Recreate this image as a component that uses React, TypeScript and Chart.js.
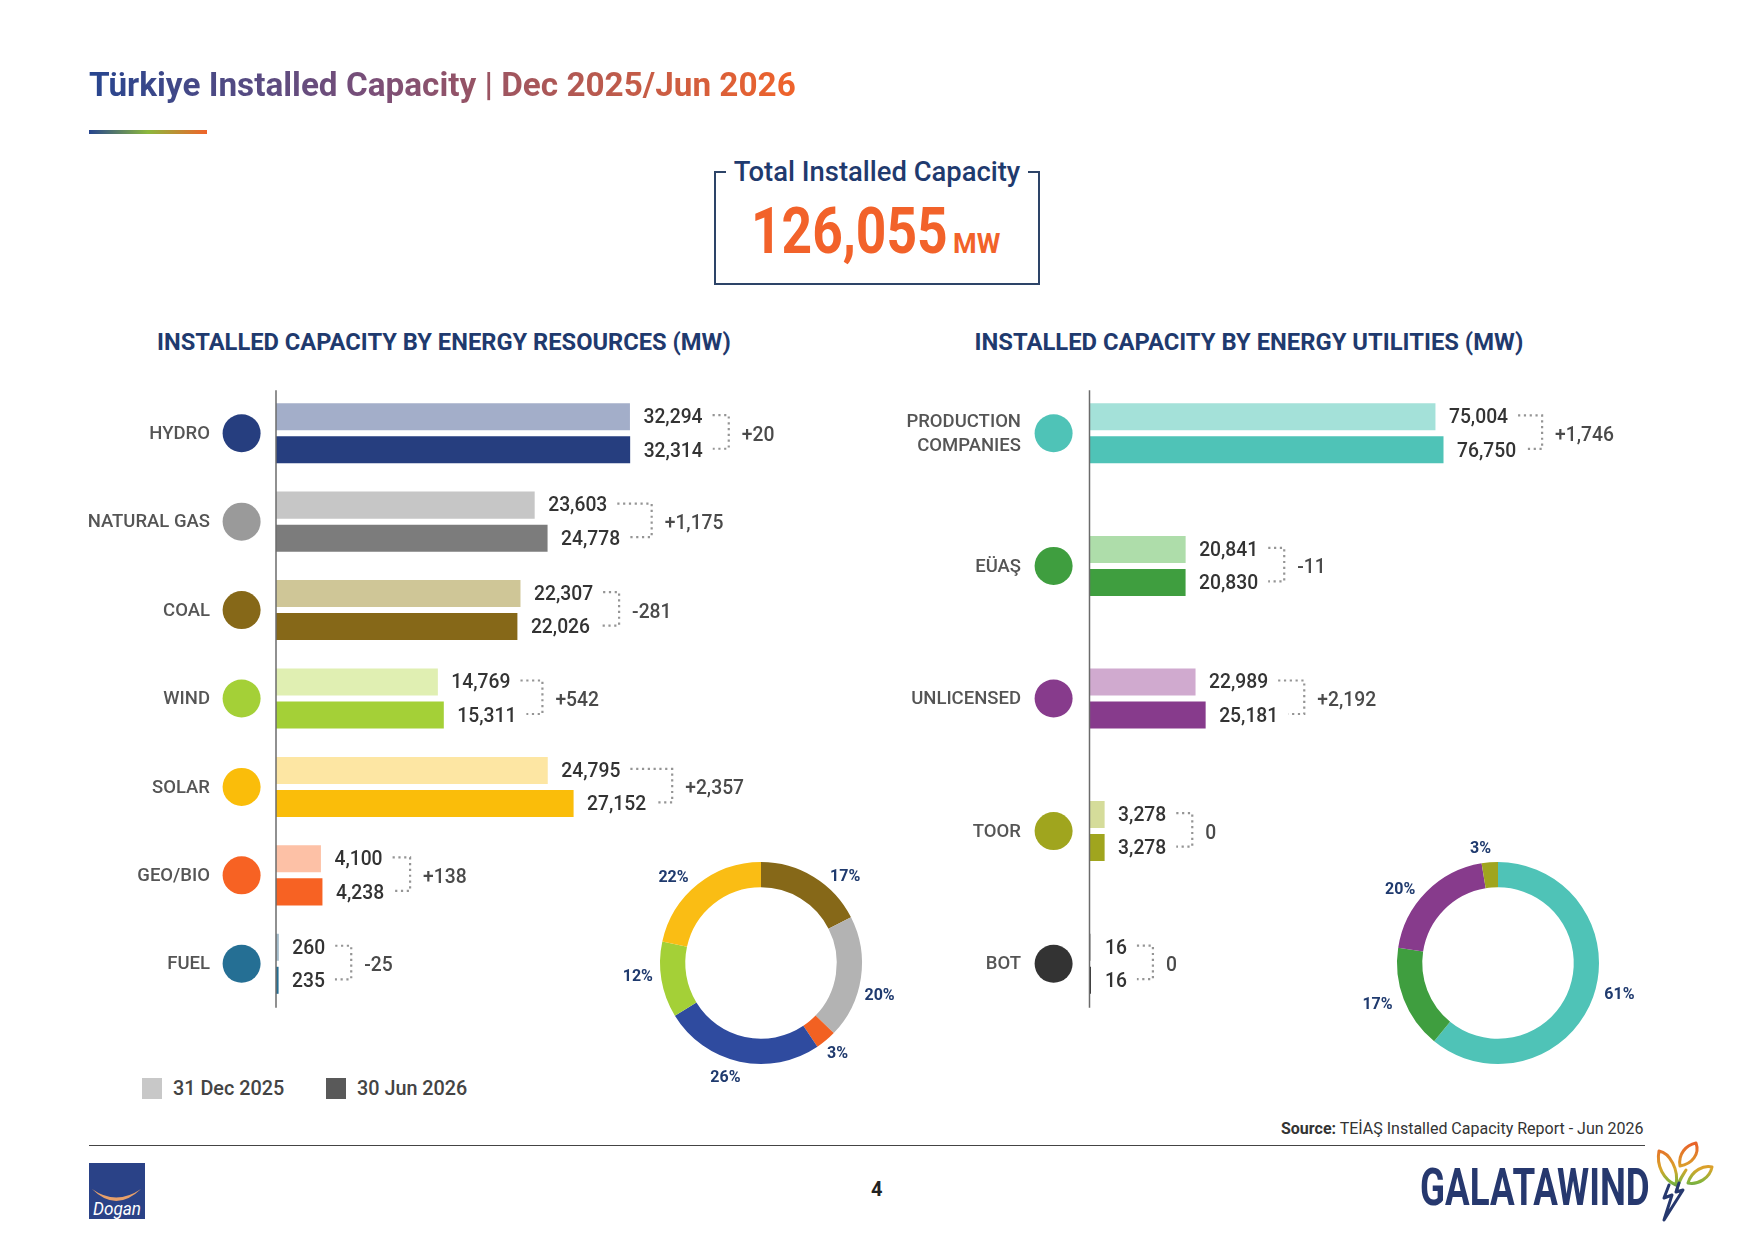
import React, { useEffect, useRef } from "react";
import { Chart, registerables } from "chart.js";

Chart.register(...registerables);

// ---------- data ----------
const resourceCategories = ["HYDRO", "NATURAL GAS", "COAL", "WIND", "SOLAR", "GEO/BIO", "FUEL"];
const resourceDec2025 = [32294, 23603, 22307, 14769, 24795, 4100, 260];
const resourceJun2026 = [32314, 24778, 22026, 15311, 27152, 4238, 235];
const resourceLight = ["#a3aec9", "#c6c6c6", "#cfc697", "#e0efb2", "#fde6a3", "#fdc1a6", "#a3bccb"];
const resourceDark = ["#263e7f", "#7c7c7c", "#866818", "#a4d037", "#fabd0a", "#f76223", "#256f94"];
const resourceDot = ["#263e7f", "#9a9a9a", "#866818", "#a4d037", "#fabd0a", "#f76223", "#256f94"];

const utilityCategories = [["PRODUCTION", "COMPANIES"], "EÜAŞ", "UNLICENSED", "TOOR", "BOT"];
const utilityDec2025 = [75004, 20841, 22989, 3278, 16];
const utilityJun2026 = [76750, 20830, 25181, 3278, 16];
const utilityLight = ["#a4e1d9", "#aeddaa", "#d0aacf", "#d5dc9a", "#bdbdbd"];
const utilityDark = ["#4fc3b7", "#3f9e3f", "#873b8c", "#a0a51e", "#333333"];

const totalCapacity = 126055;

const resourceShareLabels = ["COAL", "NATURAL GAS", "GEO/BIO", "HYDRO", "WIND", "SOLAR"];
const resourceShareValues = [22026, 24778, 4238, 32314, 15311, 27152];
const resourceShareColors = ["#866818", "#b3b3b3", "#f26122", "#2f4b9f", "#a4d037", "#fabd14"];

const utilityShareLabels = ["PRODUCTION COMPANIES", "EÜAŞ", "UNLICENSED", "TOOR"];
const utilityShareValues = [76750, 20830, 25181, 3278];
const utilityShareColors = ["#4fc3b7", "#3f9e3f", "#873b8c", "#a0a51e"];

// ---------- styles ----------
const NAVY = "#1f3a6e";
const FONT = "Roboto, sans-serif";

const fmt = (v: number) => v.toLocaleString("en-US");
const fmtDelta = (d: number) => (d > 0 ? "+" + fmt(d) : fmt(d));

const barDecor = {
  id: "barDecor",
  afterDatasetsDraw(chart: any, _a: any, o: any) {
    const { ctx, scales } = chart;
    const y = scales.y;
    const a = chart.getDatasetMeta(0);
    const b = chart.getDatasetMeta(1);
    const d0 = chart.data.datasets[0].data;
    const d1 = chart.data.datasets[1].data;
    const left = chart.chartArea.left;
    ctx.save();
    // axis line
    ctx.strokeStyle = "#6b6b6b";
    ctx.lineWidth = 1.5;
    ctx.beginPath();
    ctx.moveTo(left, y.getPixelForValue(0) - o.axisOver);
    ctx.lineTo(left, y.getPixelForValue(d0.length - 1) + o.axisOver + 1);
    ctx.stroke();
    ctx.textBaseline = "middle";
    d0.forEach((v0: number, i: number) => {
      const cy = y.getPixelForValue(i);
      // category dot
      ctx.fillStyle = o.dots[i];
      ctx.beginPath();
      ctx.arc(o.dotX, cy, 19, 0, Math.PI * 2);
      ctx.fill();
      const v1 = d1[i];
      const t0 = fmt(v0);
      const t1 = fmt(v1);
      const x0 = Math.max(a.data[i].x, left + 2) + 13.5;
      const x1 = Math.max(b.data[i].x, left + 2) + 13.5;
      const y0 = a.data[i].y + 1.5;
      const y1 = b.data[i].y + 2;
      ctx.fillStyle = "#333333";
      ctx.textAlign = "left";
      ctx.font = `500 ${o.valueSize}px ${FONT}`;
      ctx.fillText(t0, x0, y0);
      ctx.fillText(t1, x1, y1);
      const e0 = x0 + ctx.measureText(t0).width;
      const e1 = x1 + ctx.measureText(t1).width;
      const bx = Math.max(e0, e1) + 26 + (o.bracketExtra[i] || 0);
      ctx.strokeStyle = "#959595";
      ctx.lineWidth = 2.2;
      ctx.setLineDash([2.2, 3.6]);
      ctx.beginPath();
      ctx.moveTo(e0 + 10, y0 - 3);
      ctx.lineTo(bx, y0 - 3);
      ctx.lineTo(bx, y1 - 3);
      ctx.lineTo(e1 + 10, y1 - 3);
      ctx.stroke();
      ctx.setLineDash([]);
      ctx.fillStyle = "#4a4a4a";
      ctx.fillText(fmtDelta(v1 - v0), bx + 13, (y0 + y1) / 2 + 1);
    });
    ctx.restore();
  },
};

const donutLabels = {
  id: "donutLabels",
  afterDatasetsDraw(chart: any, _a: any, o: any) {
    const { ctx } = chart;
    const meta = chart.getDatasetMeta(0);
    ctx.save();
    ctx.font = `700 16px ${FONT}`;
    ctx.fillStyle = NAVY;
    ctx.textAlign = "center";
    ctx.textBaseline = "middle";
    meta.data.forEach((arc: any, i: number) => {
      const mid = (arc.startAngle + arc.endAngle) / 2 + (o.nudge[i] * Math.PI) / 180;
      const r = arc.outerRadius + 21 + o.push[i];
      const pct = Math.round((chart.data.datasets[0].data[i] / totalCapacity) * 100);
      ctx.fillText(pct + "%", arc.x + Math.cos(mid) * r, arc.y + Math.sin(mid) * r);
    });
    ctx.restore();
  },
};

function makeBar(
  canvas: HTMLCanvasElement,
  labels: any[],
  dec: number[],
  jun: number[],
  light: string[],
  dark: string[],
  dots: string[],
  cfg: { axisWidth: number; xMax: number; catPct: number; tickPad: number; dotX: number; axisOver: number; bracketExtra: Record<number, number> }
) {
  return new Chart(canvas, {
    type: "bar",
    data: {
      labels,
      datasets: [
        { label: "31 Dec 2025", data: dec, backgroundColor: light, borderWidth: 0, minBarLength: 1.5 },
        { label: "30 Jun 2026", data: jun, backgroundColor: dark, borderWidth: 0, minBarLength: 1.5 },
      ],
    },
    options: {
      indexAxis: "y",
      responsive: false,
      maintainAspectRatio: false,
      animation: false,
      layout: { padding: 0 },
      datasets: { bar: { categoryPercentage: cfg.catPct, barPercentage: 0.818 } },
      scales: {
        x: { display: false, min: 0, max: cfg.xMax },
        y: {
          border: { display: false },
          grid: { display: false, drawTicks: false },
          ticks: {
            padding: cfg.tickPad,
            labelOffset: 1,
            color: "#555555",
            font: { family: FONT, size: 18.5, weight: "500", lineHeight: 1.26 },
          },
          afterFit(s: any) {
            s.width = cfg.axisWidth;
            s.paddingTop = 0;
            s.paddingBottom = 0;
          },
        },
      },
      plugins: {
        legend: { display: false },
        tooltip: { enabled: false },
        barDecor: { valueSize: 19.3, dots, dotX: cfg.dotX, axisOver: cfg.axisOver, bracketExtra: cfg.bracketExtra },
      },
    } as any,
    plugins: [barDecor],
  });
}

function makeDonut(canvas: HTMLCanvasElement, labels: string[], values: number[], colors: string[], nudge: number[], push: number[]) {
  return new Chart(canvas, {
    type: "doughnut",
    data: { labels, datasets: [{ data: values, backgroundColor: colors, borderWidth: 0 }] },
    options: {
      responsive: false,
      maintainAspectRatio: false,
      animation: false,
      cutout: "75%",
      layout: { padding: 49 },
      plugins: { legend: { display: false }, tooltip: { enabled: false }, donutLabels: { nudge, push } },
    } as any,
    plugins: [donutLabels],
  });
}

const abs = (s: React.CSSProperties): React.CSSProperties => ({ position: "absolute", whiteSpace: "nowrap", ...s });
const canvasBox = (left: number, top: number, width: number, height: number): React.CSSProperties => ({
  position: "absolute",
  left,
  top,
  width,
  height,
  display: "block",
});

export default function App() {
  const barL = useRef<HTMLCanvasElement>(null);
  const barR = useRef<HTMLCanvasElement>(null);
  const donL = useRef<HTMLCanvasElement>(null);
  const donR = useRef<HTMLCanvasElement>(null);

  useEffect(() => {
    const charts = [
      makeBar(barL.current!, resourceCategories, resourceDec2025, resourceJun2026, resourceLight, resourceDark, resourceDot, {
        axisWidth: 276,
        xMax: 50000,
        catPct: 0.747,
        tickPad: 66,
        dotX: 241.6,
        axisOver: 43,
        bracketExtra: { 1: 5.5 },
      }),
      makeBar(barR.current!, utilityCategories, utilityDec2025, utilityJun2026, utilityLight, utilityDark, utilityDark, {
        axisWidth: 229.5,
        xMax: 120000,
        catPct: 0.498,
        tickPad: 68.5,
        dotX: 193.6,
        axisOver: 43,
        bracketExtra: {},
      }),
      makeDonut(donL.current!, resourceShareLabels, resourceShareValues, resourceShareColors, [13, 7, 0, 5, 3, -7], [-2, 1, -3, -2, 2, 0]),
      makeDonut(donR.current!, utilityShareLabels, utilityShareValues, utilityShareColors, [-5, 2, -8, -4], [3.5, 5.5, 0, -6.5]),
    ];
    return () => charts.forEach((c) => c.destroy());
  }, []);

  return (
    <div style={{ position: "absolute", left: 0, top: 0, width: 1754, height: 1241, overflow: "hidden", background: "#fff", fontFamily: FONT }}>
      {/* title */}
      <div
        style={abs({
          left: 89,
          top: 65,
          fontSize: 33.3,
          fontWeight: 700,
          lineHeight: "40px",
          background: "linear-gradient(90deg,#27458f 0%,#7a4f78 40%,#f0632a 100%)",
          WebkitBackgroundClip: "text",
          backgroundClip: "text",
          color: "transparent",
        })}
      >
        Türkiye Installed Capacity | Dec 2025/Jun 2026
      </div>
      <div style={abs({ left: 89, top: 130, width: 118, height: 4, background: "linear-gradient(90deg,#27458f 0%,#8cb83c 50%,#f0632a 100%)" })} />

      {/* total box */}
      <div style={abs({ left: 714, top: 171, width: 322, height: 110, border: "2px solid #2d4468" })} />
      <div style={abs({ left: 726, top: 152.5, width: 302, textAlign: "center", background: "#fff", color: NAVY, fontSize: 27.4, fontWeight: 500, lineHeight: "38px" })}>
        Total Installed Capacity
      </div>
      <div style={abs({ left: 750.5, top: 194, color: "#f2622a", fontSize: 65, fontWeight: 700, lineHeight: "74px", transform: "scaleX(0.82)", transformOrigin: "left center" })}>
        {fmt(totalCapacity)}
      </div>
      <div style={abs({ left: 953, top: 228, color: "#f2622a", fontSize: 27, fontWeight: 700, lineHeight: "32px" })}>MW</div>

      {/* section headers */}
      <div style={abs({ left: 157, top: 326, color: NAVY, fontSize: 23.7, fontWeight: 700, lineHeight: "32px" })}>
        INSTALLED CAPACITY BY ENERGY RESOURCES (MW)
      </div>
      <div style={abs({ left: 974.5, top: 326, color: NAVY, fontSize: 23.8, fontWeight: 700, lineHeight: "32px" })}>
        INSTALLED CAPACITY BY ENERGY UTILITIES (MW)
      </div>

      {/* charts */}
      <canvas ref={barL} width={824} height={619} style={canvasBox(0, 389, 824, 619)} />
      <canvas ref={barR} width={783} height={663} style={canvasBox(860, 367, 783, 663)} />
      <canvas ref={donL} width={300} height={300} style={canvasBox(610.5, 812.5, 300, 300)} />
      <canvas ref={donR} width={300} height={300} style={canvasBox(1347.7, 812.5, 300, 300)} />

      {/* legend */}
      <div style={abs({ left: 142, top: 1078, width: 20, height: 21, background: "#c8c8c8" })} />
      <div style={abs({ left: 173, top: 1076, color: "#444", fontSize: 19.8, fontWeight: 500, lineHeight: "26px" })}>31 Dec 2025</div>
      <div style={abs({ left: 326, top: 1078, width: 20, height: 21, background: "#595959" })} />
      <div style={abs({ left: 357, top: 1076, color: "#444", fontSize: 19.8, fontWeight: 500, lineHeight: "26px" })}>30 Jun 2026</div>

      {/* footer */}
      <div style={abs({ right: 110.5, top: 1118.5, color: "#333", fontSize: 16, lineHeight: "20px" })}>
        <span style={{ fontWeight: 700 }}>Source:</span> TEİAŞ Installed Capacity Report - Jun 2026
      </div>
      <div style={abs({ left: 89, top: 1145, width: 1556, height: 1, background: "#444" })} />
      <svg style={abs({ left: 89, top: 1163 })} width="56" height="56" viewBox="0 0 56 56">
        <rect width="56" height="56" fill="#2a4287" />
        <path d="M3 26 Q27 50 52 26 Q27 43 3 26 Z" fill="#e8a06a" />
        <text x="28" y="52" textAnchor="middle" fontFamily={FONT} fontStyle="italic" fontSize="18" textLength="48" lengthAdjust="spacingAndGlyphs" fill="#fff">
          Dogan
        </text>
      </svg>
      <div style={abs({ left: 871, top: 1176.5, color: "#222", fontSize: 20, fontWeight: 700, lineHeight: "24px" })}>4</div>
      <div style={abs({ left: 1420, top: 1158, color: "#26386e", fontSize: 51, fontWeight: 700, lineHeight: "60px", transform: "scaleX(0.72)", transformOrigin: "left center" })}>
        GALATAWIND
      </div>
      <svg style={abs({ left: 1650, top: 1140 })} width="70" height="85" viewBox="0 0 70 85" fill="none" strokeWidth="3" strokeLinejoin="round" strokeLinecap="round">
        <defs>
          <linearGradient id="leafGrad" gradientUnits="userSpaceOnUse" x1="0" y1="4" x2="0" y2="75">
            <stop offset="0" stopColor="#e8632a" />
            <stop offset="0.35" stopColor="#d9a52a" />
            <stop offset="0.55" stopColor="#7fb53c" />
            <stop offset="0.72" stopColor="#26386e" />
            <stop offset="1" stopColor="#26386e" />
          </linearGradient>
        </defs>
        <path d="M26 45 C14 40 6 26 9 11 C20 13 29 30 26 45 Z" stroke="url(#leafGrad)" />
        <path d="M30 26 C28 14 36 5 46 3 C50 14 42 24 30 26 Z" stroke="url(#leafGrad)" />
        <path d="M38 43 C42 30 54 25 62 27 C60 38 48 45 38 43 Z" stroke="url(#leafGrad)" />
        <path d="M36 30 C31 38 28 42 27 50" stroke="url(#leafGrad)" />
        <path d="M19 45 L14 58 L22 55 L14 80 L33 50 L26 52 L29 43" stroke="#26386e" />
      </svg>
    </div>
  );
}
